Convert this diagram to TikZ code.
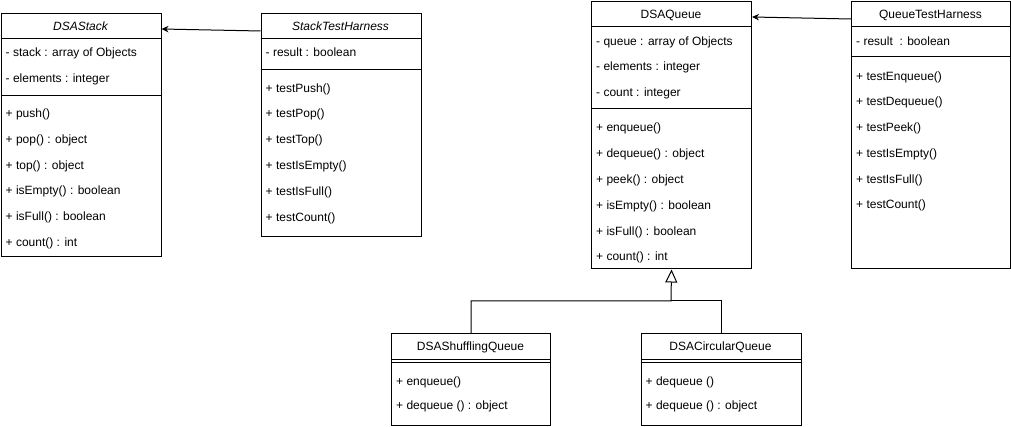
\documentclass[tikz,border=0pt]{standalone}
\usepackage{fontspec}
\setmainfont{Liberation Sans}
\usetikzlibrary{arrows.meta}
\begin{document}
\begin{tikzpicture}[x=1pt,y=-1pt,
  box/.style={draw, line width=1pt, anchor=north west, inner sep=0pt},
  member/.style={anchor=west, inner sep=0pt, text height=8.6pt, text depth=0pt, font=\fontsize{12}{14}\selectfont},
  title/.style={inner sep=0pt, text height=8.6pt, text depth=0pt, font=\fontsize{12}{14}\selectfont},
  abstract/.style={title, font=\fontsize{12}{14}\selectfont\itshape},
  sep/.style={line width=1pt},
  assoc/.style={line width=1pt, -{Stealth[length=7pt,width=6.5pt]}},
  link/.style={line width=1pt},
  inherit/.style={line width=1pt, -{Triangle[open,length=13pt,width=12pt,fill=white]}}
]
\useasboundingbox (0,0) rectangle (1011,427);

% ---- DSAStack (abstract) ----
\node[box, minimum width=160pt, minimum height=243pt] (stack) at (0.5,13) {};
\node[abstract] (stackT) at (80.5,26) {DSAStack};
\draw[sep] (0.5,39) -- (160.5,39);
\draw[sep] (0.5,95.5) -- (160.5,95.5);
\node[member] (s1) at (5.5,52) {- stack : array of Objects};
\node[member] (s2) at (5.5,78) {- elements : integer};
\node[member] (s3) at (5.5,113) {+ push()};
\node[member] (s4) at (5.5,139) {+ pop() : object};
\node[member] (s5) at (5.5,165) {+ top() : object};
\node[member] (s6) at (5.5,190) {+ isEmpty() : boolean};
\node[member] (s7) at (5.5,216) {+ isFull() : boolean};
\node[member] (s8) at (5.5,242) {+ count() : int};

% ---- StackTestHarness ----
\node[box, minimum width=160pt, minimum height=223pt] (sth) at (260.5,13) {};
\node[abstract] (sthT) at (340.5,26) {StackTestHarness};
\draw[sep] (260.5,39) -- (420.5,39);
\draw[sep] (260.5,69.5) -- (420.5,69.5);
\node[member] (h1) at (265.5,52) {- result : boolean};
\node[member] (h2) at (265.5,88) {+ testPush()};
\node[member] (h3) at (265.5,113) {+ testPop()};
\node[member] (h4) at (265.5,139) {+ testTop()};
\node[member] (h5) at (265.5,165) {+ testIsEmpty()};
\node[member] (h6) at (265.5,191) {+ testIsFull()};
\node[member] (h7) at (265.5,217) {+ testCount()};

% ---- DSAQueue ----
\node[box, minimum width=160pt, minimum height=267pt] (dq) at (591,1.5) {};
\node[title] (dqT) at (671,14.5) {DSAQueue};
\draw[sep] (591,26.5) -- (751,26.5);
\draw[sep] (591,108.5) -- (751,108.5);
\node[member] (q1) at (596,41.5) {- queue : array of Objects};
\node[member] (q2) at (596,66.5) {- elements : integer};
\node[member] (q3) at (596,92.5) {- count : integer};
\node[member] (q4) at (596,127) {+ enqueue()};
\node[member] (q5) at (596,153) {+ dequeue() : object};
\node[member] (q6) at (596,179) {+ peek() : object};
\node[member] (q7) at (596,205) {+ isEmpty() : boolean};
\node[member] (q8) at (596,231) {+ isFull() : boolean};
\node[member] (q9) at (596,256.5) {+ count() : int};

% ---- QueueTestHarness ----
\node[box, minimum width=159pt, minimum height=267pt] (qth) at (851,1.5) {};
\node[title] (qthT) at (930.5,14.5) {QueueTestHarness};
\draw[sep] (851,27) -- (1010,27);
\draw[sep] (851,57) -- (1010,57);
\node[member] (t1) at (856,41.5) {- result\ \ : boolean};
\node[member] (t2) at (856,76) {+ testEnqueue()};
\node[member] (t3) at (856,101) {+ testDequeue()};
\node[member] (t4) at (856,127) {+ testPeek()};
\node[member] (t5) at (856,153) {+ testIsEmpty()};
\node[member] (t6) at (856,179) {+ testIsFull()};
\node[member] (t7) at (856,204.5) {+ testCount()};

% ---- DSAShufflingQueue ----
\node[box, minimum width=159pt, minimum height=92pt] (shuf) at (391,333) {};
\node[title] (shufT) at (470.5,346) {DSAShufflingQueue};
\draw[sep] (391,359) -- (550,359);
\draw[sep] (391,362) -- (550,362);
\node[member] (u1) at (396,381) {+ enqueue()};
\node[member] (u2) at (396,405.5) {+ dequeue () : object};

% ---- DSACircularQueue ----
\node[box, minimum width=160pt, minimum height=92pt] (circ) at (640.5,333) {};
\node[title] (circT) at (720.5,346) {DSACircularQueue};
\draw[sep] (640.5,359) -- (800.5,359);
\draw[sep] (640.5,362) -- (800.5,362);
\node[member] (c1) at (645.5,381) {+ dequeue ()};
\node[member] (c2) at (645.5,405.5) {+ dequeue () : object};

% ---- associations ----
\draw[assoc] ([yshift=-18pt]sth.north west) -- ([yshift=-16pt]stack.north east);
\draw[assoc] ([yshift=-17.5pt]qth.north west) -- ([yshift=-15.5pt]dq.north east);

% ---- generalisation ----
\coordinate (j) at (671,301);
\draw[link] (circ.north) |- (j);
\draw[inherit] (shuf.north) |- (j) -- (dq.south);
\end{tikzpicture}
\end{document}
